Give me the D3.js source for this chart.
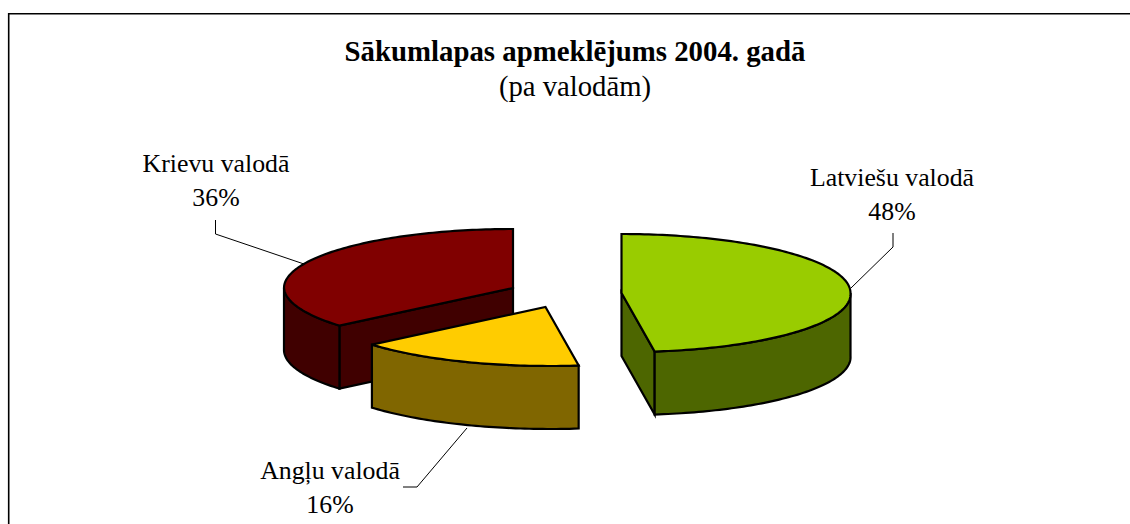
<!DOCTYPE html>
<html><head><meta charset="utf-8">
<script src="https://cdn.jsdelivr.net/npm/d3@7"></script>
<style>html,body{margin:0;padding:0;background:#fff}svg{display:block}text{font-family:"Liberation Serif",serif;fill:#000}</style>
</head><body><svg id="c" width="1130" height="524"></svg>
<script>
const categories = ["Latviešu valodā", "Angļu valodā", "Krievu valodā"];
const values = [48, 16, 36];
const topColors = ["#99CC00", "#FFCC00", "#800000"];
const sideColors = ["#4D6600", "#806600", "#400000"];
const titleText = "Sākumlapas apmeklējums 2004. gadā";
const subtitleText = "(pa valodām)";

const W = 1130, H = 524, rx = 229, ry = 59, depth = 63, frontShift = 4.5;
const centers = [[621.5, 293], [545.5, 307], [513, 288]];
const labelPos = [[892, 186], [330, 479], [216, 172]];
const leaders = [
  [[893, 233], [893, 247], [851, 288]],
  [[403, 487], [417, 487], [467, 428]],
  [[215.5, 220], [215.5, 234], [304, 264]]
];

const svg = d3.select("#c");
const line = d3.line();
svg.append("path").attr("d", line([[8.7, H], [8.7, 13.7], [W, 13.7]]))
  .attr("fill", "none").attr("stroke", "#000").attr("stroke-width", 1.6);

const pie = d3.pie().sort(null).value(d => d);
const arcs = pie(values);

function pt(c, a, dz) {
  return [c[0] + rx * Math.sin(a) + frontShift * Math.max(0, -Math.cos(a)),
          c[1] - ry * Math.cos(a) + (dz || 0)];
}
function arcPts(c, a0, a1, dz) {
  const n = Math.max(2, Math.ceil((a1 - a0) / 0.02));
  return d3.range(n + 1).map(i => pt(c, a0 + (a1 - a0) * i / n, dz));
}
function draw(d, fill) {
  svg.append("path").attr("d", d).attr("fill", fill).attr("stroke", "#000")
    .attr("stroke-width", 2.2).attr("stroke-linejoin", "miter");
}

// leader lines under the slices
leaders.forEach(l => svg.append("path").attr("d", line(l)).attr("fill", "none")
  .attr("stroke", "#000").attr("stroke-width", 1));

// painter's order: back slice first
[2, 1, 0].forEach(i => {
  const a = arcs[i], c = centers[i], a0 = a.startAngle, a1 = a.endAngle;
  // flat cut wall on the edge facing the viewer
  if (i === 2 || i === 0) {
    const p = pt(c, i === 2 ? a0 : a1);
    draw(line([c, p, [p[0], p[1] + depth], [c[0], c[1] + depth]]) + "Z", sideColors[i]);
  }
  // curved outer wall: only the front half of the ellipse
  const w0 = Math.max(a0, Math.PI / 2), w1 = Math.min(a1, Math.PI * 1.5);
  if (w1 > w0) {
    const outer = arcPts(c, w0, w1, 0).concat(arcPts(c, w0, w1, depth).reverse());
    draw(line(outer) + "Z", sideColors[i]);
  }
  // top face
  draw(line([c].concat(arcPts(c, a0, a1, 0))) + "Z", topColors[i]);
});

svg.append("text").attr("x", 575).attr("y", 61).attr("text-anchor", "middle")
  .attr("font-size", 28.8).attr("font-weight", "bold").text(titleText);
svg.append("text").attr("x", 575).attr("y", 96).attr("text-anchor", "middle")
  .attr("font-size", 28.7).text(subtitleText);

categories.forEach((n, i) => {
  const t = svg.append("text").attr("text-anchor", "middle").attr("font-size", 25.8);
  t.append("tspan").attr("x", labelPos[i][0]).attr("y", labelPos[i][1]).text(n);
  t.append("tspan").attr("x", labelPos[i][0]).attr("y", labelPos[i][1] + 34).text(values[i] + "%");
});
</script></body></html>
